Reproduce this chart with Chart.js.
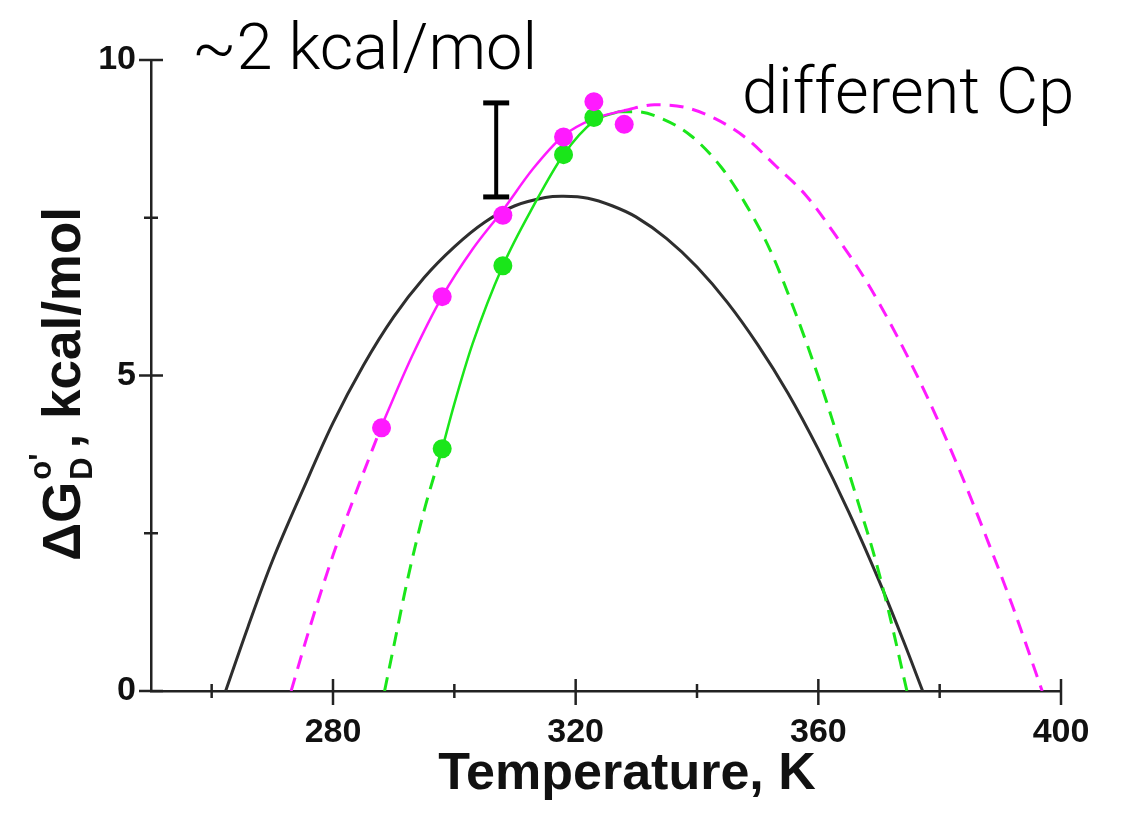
<!DOCTYPE html>
<html>
<head>
<meta charset="utf-8">
<script src="https://cdn.jsdelivr.net/npm/chart.js@4.4.1/dist/chart.umd.min.js"></script>
<style>
  html, body { margin: 0; padding: 0; background: #ffffff; }
  #wrap { width: 1121px; height: 825px; position: relative; }
</style>
</head>
<body>
<div id="wrap"><canvas id="c"></canvas></div>
<script>
// ---------- data ----------
const xTickValues = [260, 280, 300, 320, 340, 360, 380, 400];
const xTickLabels = [280, 320, 360, 400];
const yTickValues = [0, 2.5, 5, 7.5, 10];
const yTickLabels = [0, 5, 10];

// black curve (solid)
const blackT = [262.3, 266, 270, 275, 280, 285, 290, 295, 300, 305, 310, 315, 318, 322, 326, 330, 335, 340, 345, 350, 355, 360, 365, 370, 374, 377.2];
const blackG = [0, 1.02, 2.06, 3.18, 4.25, 5.16, 5.93, 6.55, 7.04, 7.43, 7.69, 7.82, 7.84, 7.81, 7.69, 7.51, 7.17, 6.72, 6.16, 5.49, 4.72, 3.83, 2.84, 1.75, 0.8, 0];

// magenta curve
const magDashLeftT = [273.1, 276, 280, 284, 288];
const magDashLeftG = [0, 0.95, 2.15, 3.2, 4.2];
const magSolidT = [288, 293, 298, 303, 308, 313, 318, 323, 328];
const magSolidG = [4.2, 5.3, 6.25, 7.0, 7.62, 8.28, 8.8, 9.07, 9.2];
const magDashRightT = [328, 333, 338, 343, 348, 353, 358, 363, 368, 373, 378, 383, 388, 392, 396.9];
const magDashRightG = [9.2, 9.29, 9.25, 9.07, 8.77, 8.32, 7.85, 7.2, 6.48, 5.62, 4.65, 3.56, 2.36, 1.35, 0];

// green curve
const grnDashLeftT = [288.5, 290, 292.3, 295, 298];
const grnDashLeftG = [0, 0.7, 1.77, 2.85, 3.84];
const grnSolidT = [298, 300, 303, 308, 313, 318, 323, 327];
const grnSolidG = [3.84, 4.55, 5.5, 6.74, 7.68, 8.5, 9.03, 9.18];
const grnDashRightT = [327, 330, 334, 339, 344, 348, 352, 356, 360, 364, 367, 369, 371.5, 374.6];
const grnDashRightG = [9.18, 9.18, 9.08, 8.8, 8.3, 7.72, 7.0, 6.05, 4.98, 3.78, 2.85, 2.22, 1.3, 0];

// measured points
const magPointT = [288, 298, 308, 318, 323, 328];
const magPointG = [4.17, 6.25, 7.54, 8.78, 9.34, 8.98];
const grnPointT = [298, 308, 318, 323];
const grnPointG = [3.84, 6.74, 8.50, 9.09];

// ~2 kcal/mol bracket (in data units)
const bracketT = 306.9;
const bracketLo = 7.83;
const bracketHi = 9.32;

// texts
const xTitle = 'Temperature, K';
const yTitleMain = 'ΔG';
const yTitleSup = "o'";
const yTitleSub = 'D';
const yTitleRest = ', kcal/mol';
const note1 = '~2 kcal/mol';
const note2 = 'different Cp';

// ---------- styling ----------
const MAG = '#ff1aff';
const GRN = '#1ae61a';
const BLK = '#2e2e2e';
const AXIS = '#222222';
const BOLD = '"Liberation Sans", Arial, Helvetica, sans-serif';
const LIGHT = '"Helvetica Neue", Roboto, "Open Sans", sans-serif';

const pts = (T, G) => T.map((t, i) => ({ x: t, y: G[i] }));

function lineDs(T, G, color, width, dash, order, smooth) {
  const ds = {
    data: pts(T, G), showLine: true, borderColor: color, borderWidth: width,
    borderDash: dash || [], pointRadius: 0, pointHoverRadius: 0,
    fill: false, order: order
  };
  if (smooth) { ds.tension = 0.35; ds.cubicInterpolationMode = 'default'; }
  else { ds.cubicInterpolationMode = 'monotone'; }
  return ds;
}
function pointDs(T, G, color) {
  return {
    data: pts(T, G), showLine: false, pointRadius: 9.5, pointHoverRadius: 9.5,
    backgroundColor: color, borderColor: color, borderWidth: 0, order: 0
  };
}

const deco = {
  id: 'deco',
  beforeDraw(chart) {
    const ctx = chart.ctx;
    ctx.save();
    ctx.fillStyle = '#ffffff';
    ctx.fillRect(0, 0, chart.width, chart.height);
    ctx.restore();
  },
  afterDraw(chart) {
    const { ctx, chartArea, scales: { x, y } } = chart;
    ctx.save();
    // tick marks crossing the axes
    ctx.strokeStyle = AXIS;
    ctx.lineWidth = 2.5;
    const bottom = chartArea.bottom, left = chartArea.left;
    xTickValues.forEach(v => {
      const px = x.getPixelForValue(v);
      const major = xTickLabels.includes(v);
      ctx.beginPath();
      ctx.moveTo(px, bottom - (major ? 12 : 7));
      ctx.lineTo(px, bottom + (major ? 14 : 7));
      ctx.stroke();
    });
    yTickValues.forEach(v => {
      const py = y.getPixelForValue(v);
      const major = yTickLabels.includes(v);
      ctx.beginPath();
      ctx.moveTo(left - (major ? 12 : 7), py);
      ctx.lineTo(left + (major ? 12 : 7), py);
      ctx.stroke();
    });

    // bracket
    const bx = x.getPixelForValue(bracketT);
    const bt = y.getPixelForValue(bracketHi);
    const bb = y.getPixelForValue(bracketLo);
    ctx.strokeStyle = '#000000';
    ctx.lineWidth = 4;
    ctx.beginPath(); ctx.moveTo(bx, bt); ctx.lineTo(bx, bb); ctx.stroke();
    ctx.lineWidth = 5;
    ctx.beginPath(); ctx.moveTo(bx - 13, bt); ctx.lineTo(bx + 13, bt); ctx.stroke();
    ctx.beginPath(); ctx.moveTo(bx - 13, bb); ctx.lineTo(bx + 13, bb); ctx.stroke();

    // annotation texts
    ctx.fillStyle = '#000000';
    ctx.textAlign = 'left';
    ctx.textBaseline = 'alphabetic';
    ctx.font = '300 65px ' + LIGHT;
    ctx.fillText(note1, 192, 69);
    ctx.fillText(note2, 742, 113);

    // x title
    ctx.fillStyle = '#111111';
    ctx.font = 'bold 52px ' + BOLD;
    ctx.textAlign = 'center';
    ctx.fillText(xTitle, 627, 789);

    // y title (rotated, with super/subscript)
    const big = 'bold 53px ' + BOLD;
    const small = 'bold 31px ' + BOLD;
    ctx.font = big;
    const w1 = ctx.measureText(yTitleMain).width;
    const w3 = ctx.measureText(yTitleRest).width;
    ctx.font = small;
    const wSup = ctx.measureText(yTitleSup).width;
    const wSub = ctx.measureText(yTitleSub).width;
    const wMid = Math.max(wSup, wSub) + 7;
    const total = w1 + wMid + w3;
    const centerY = 384;
    ctx.translate(80, centerY + total / 2);
    ctx.rotate(-Math.PI / 2);
    ctx.textAlign = 'left';
    ctx.font = big;
    ctx.fillText(yTitleMain, 0, 0);
    ctx.font = small;
    ctx.fillText(yTitleSup, w1 + 2, -29);
    ctx.fillText(yTitleSub, w1 + 2, 12);
    ctx.font = big;
    ctx.fillText(yTitleRest, w1 + wMid, 0);
    ctx.restore();
  }
};

new Chart(document.getElementById('c'), {
  type: 'scatter',
  data: {
    datasets: [
      pointDs(magPointT, magPointG, MAG),
      pointDs(grnPointT, grnPointG, GRN),
      lineDs(magSolidT, magSolidG, MAG, 2.5, null, 1),
      lineDs(grnSolidT, grnSolidG, GRN, 2.5, null, 1),
      lineDs(magDashLeftT, magDashLeftG, MAG, 3, [14, 9], 2),
      lineDs(magDashRightT, magDashRightG, MAG, 3, [14, 9], 2),
      lineDs(grnDashLeftT, grnDashLeftG, GRN, 3, [14, 9], 2),
      lineDs(grnDashRightT, grnDashRightG, GRN, 3, [14, 9], 2),
      lineDs(blackT, blackG, BLK, 3, null, 3, true)
    ]
  },
  options: {
    responsive: true,
    maintainAspectRatio: false,
    animation: false,
    events: [],
    layout: { padding: { left: 0, top: 60, right: 60, bottom: 0 } },
    plugins: { legend: { display: false }, tooltip: { enabled: false } },
    scales: {
      x: {
        type: 'linear', min: 250, max: 400,
        afterBuildTicks: s => { s.ticks = xTickValues.map(v => ({ value: v })); },
        afterFit: s => { s.height = 134; },
        ticks: {
          autoSkip: false, maxRotation: 0, padding: 21, color: '#111111',
          font: { family: BOLD, size: 34, weight: 'bold' },
          callback: v => xTickLabels.includes(v) ? String(v) : ''
        },
        grid: { display: false, drawTicks: false },
        border: { display: true, color: AXIS, width: 2.5 }
      },
      y: {
        type: 'linear', min: 0, max: 10,
        afterBuildTicks: s => { s.ticks = yTickValues.map(v => ({ value: v })); },
        afterFit: s => { s.width = 151; },
        ticks: {
          autoSkip: false, padding: 15, color: '#111111',
          font: { family: BOLD, size: 34, weight: 'bold' },
          callback: v => yTickLabels.includes(v) ? String(v) : ''
        },
        grid: { display: false, drawTicks: false },
        border: { display: true, color: AXIS, width: 2.5 }
      }
    }
  },
  plugins: [deco]
});
</script>
</body>
</html>
